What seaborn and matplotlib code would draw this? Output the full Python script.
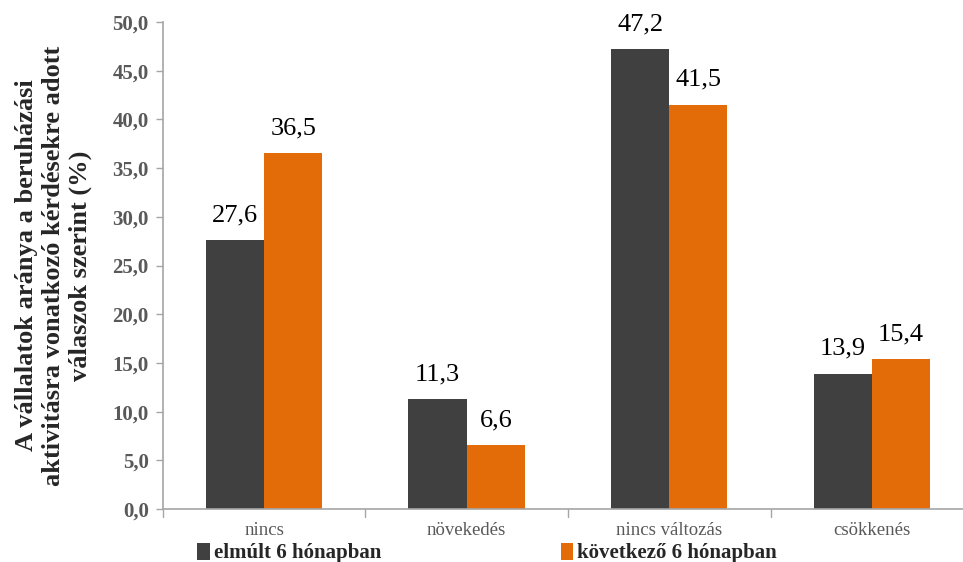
import pandas as pd
import matplotlib.pyplot as plt
import seaborn as sns

categories = ["nincs", "növekedés", "nincs változás", "csökkenés"]
elmult = [27.6, 11.3, 47.2, 13.9]
kovetkezo = [36.5, 6.6, 41.5, 15.4]
series = ["elmúlt 6 hónapban", "következő 6 hónapban"]
colors = ["#404040", "#E36C09"]

df = pd.DataFrame({
    "kategoria": categories * 2,
    "ertek": elmult + kovetkezo,
    "idoszak": [series[0]] * 4 + [series[1]] * 4,
})

sns.set_style("white")
plt.rcParams["font.family"] = ["Liberation Serif", "DejaVu Serif"]

fig = plt.figure(figsize=(9.63, 5.62), dpi=100)
ax = fig.add_axes([0.169, 0.094, 0.831, 0.867])

sns.barplot(data=df, x="kategoria", y="ertek", hue="idoszak",
            palette=colors, width=0.575, saturation=1, linewidth=0,
            ax=ax, legend=True)

for cont in ax.containers:
    ax.bar_label(cont, labels=[f"{v:.1f}".replace(".", ",") for v in cont.datavalues],
                 padding=10, fontsize=19, color="black")

ax.set_ylim(0, 50)
ax.set_xlim(-0.5, 3.45)
ax.set_yticks(range(0, 51, 5))
ax.set_yticklabels([f"{v:.1f}".replace(".", ",") for v in range(0, 51, 5)],
                   fontsize=15, fontweight="bold", color="#595959")
ax.set_xticks(range(4))
ax.set_xticklabels(categories, fontsize=13.5, color="#595959")
ax.tick_params(axis="x", length=0, pad=9)
ax.tick_params(axis="y", length=5, width=1, color="#A6A6A6", direction="out", pad=5, left=True)
for x in [-0.5, 0.5, 1.5, 2.5]:
    ax.plot([x, x], [0, -0.8], color="#A6A6A6", lw=1, clip_on=False)

ax.set_xlabel("")
ax.set_ylabel("A vállalatok aránya a beruházási\naktivitásra vonatkozó kérdésekre adott\nválaszok szerint (%)",
              fontsize=19, fontweight="bold", linespacing=1.2, labelpad=15)

for side in ["top", "right"]:
    ax.spines[side].set_visible(False)
for side in ["left", "bottom"]:
    ax.spines[side].set_color("#A6A6A6")
    ax.spines[side].set_linewidth(1.2)

handles, labels = ax.get_legend_handles_labels()
ax.get_legend().remove()
fig.legend(handles, labels, loc="center left", bbox_to_anchor=(0.205, 0.016), ncol=2,
           frameon=False, prop={"weight": "bold", "size": 15},
           handlelength=0.6, handleheight=0.9, handletextpad=0.2, columnspacing=8.6,
           borderpad=0, borderaxespad=0)

fig.savefig("out.png", dpi=100)
